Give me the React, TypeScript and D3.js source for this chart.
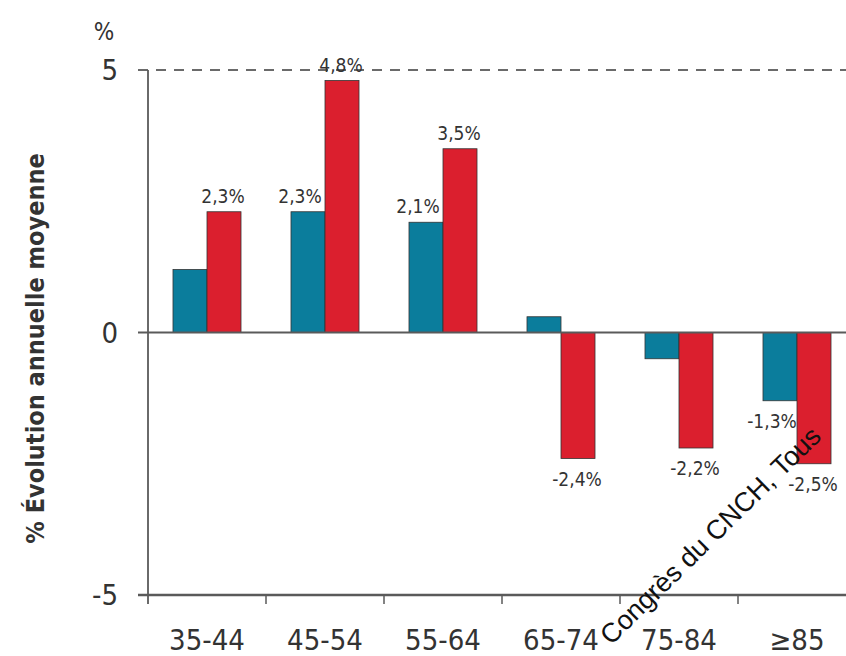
import React from 'react';
import * as d3 from 'd3';

const categories = ['35-44', '45-54', '55-64', '65-74', '75-84', '≥85'];
const series = ['teal', 'red'];
const tealValues = [1.2, 2.3, 2.1, 0.3, -0.5, -1.3];
const redValues = [2.3, 4.8, 3.5, -2.4, -2.2, -2.5];
const tealLabelled = [false, true, true, false, false, true];
const redLabelled = [true, true, true, true, true, true];
const yTicks = [-5, 0, 5];

const W = 846;
const H = 656;
const margin = { top: 70, left: 148, bottom: 595 };
const colors: Record<string, string> = { teal: '#0b7d9c', red: '#db1f2e' };
const font = '"Liberation Sans Narrow", "DejaVu Sans Condensed", Arial, sans-serif';

const fmt = (v: number) => v.toFixed(1).replace('.', ',') + '%';

export default function App() {
  const x0 = d3.scaleBand().domain(categories).range([margin.left, margin.left + 118 * categories.length]);
  const x1 = d3.scaleBand().domain(series).range([0, x0.bandwidth()]).paddingOuter(0.735);
  const y = d3.scaleLinear().domain([-5, 5]).range([margin.bottom, margin.top]);

  const rows = categories.map((c, i) => ({
    c,
    vals: [
      { s: 'teal', v: tealValues[i], lab: tealLabelled[i] },
      { s: 'red', v: redValues[i], lab: redLabelled[i] },
    ],
  }));

  const axisColor = '#5a5a5a';

  return (
    <div style={{ position: 'fixed', left: 0, top: 0 }}>
      <svg width={W} height={H} style={{ display: 'block', background: '#fff' }} fontFamily={font}>
        {/* dashed reference line at 5 */}
        <line x1={138} x2={W} y1={y(5)} y2={y(5)} stroke="#6a6a6a" strokeWidth={2} strokeDasharray="10,8" />

        {rows.map((r) =>
          r.vals.map((d) => {
            const bx = (x0(r.c) as number) + (x1(d.s) as number);
            const top = y(Math.max(0, d.v));
            const bottom = y(Math.min(0, d.v));
            return (
              <rect
                key={r.c + d.s}
                x={bx}
                y={top}
                width={x1.bandwidth()}
                height={bottom - top}
                fill={colors[d.s]}
                stroke="#333"
                strokeWidth={0.8}
              />
            );
          })
        )}

        {/* zero line */}
        <line x1={138} x2={W} y1={y(0)} y2={y(0)} stroke={axisColor} strokeWidth={2} />
        {/* bottom axis */}
        <line x1={138} x2={W} y1={y(-5)} y2={y(-5)} stroke={axisColor} strokeWidth={2.5} />
        {/* vertical axis */}
        <line x1={margin.left} x2={margin.left} y1={y(5)} y2={y(-5) + 9} stroke={axisColor} strokeWidth={1.8} />
        {categories.slice(1).map((c) => (
          <line key={c} x1={x0(c)} x2={x0(c)} y1={y(-5)} y2={y(-5) + 9} stroke={axisColor} strokeWidth={1.5} />
        ))}

        {yTicks.map((t) => (
          <text key={t} x={118} y={y(t)} dy="0.36em" textAnchor="end" fontSize={29} fill="#333">
            {t}
          </text>
        ))}
        <text x={104} y={40} textAnchor="middle" fontSize={24} fill="#333">%</text>

        {categories.map((c) => (
          <text key={c} x={(x0(c) as number) + x0.bandwidth() / 2} y={650} textAnchor="middle" fontSize={29} fill="#333">
            {c}
          </text>
        ))}

        {rows.map((r) =>
          r.vals
            .filter((d) => d.lab)
            .map((d) => {
              const cx = (x0(r.c) as number) + (x1(d.s) as number) + x1.bandwidth() / 2 + (d.s === 'teal' ? -8 : -1);
              const ty = d.v >= 0 ? y(d.v) - 9 : y(d.v) + 27;
              return (
                <text key={'l' + r.c + d.s} x={cx} y={ty} textAnchor="middle" fontSize={19} fill="#333">
                  {fmt(d.v)}
                </text>
              );
            })
        )}

        <text
          transform={`translate(44, ${y(0) + 16}) rotate(-90)`}
          textAnchor="middle"
          fontSize={25}
          fontWeight="bold"
          fill="#333"
        >
          % Évolution annuelle moyenne
        </text>

        <text
          transform="translate(611, 646) rotate(-44.5)"
          fontSize={27}
          fill="#111"
          fontFamily="'Liberation Sans', Arial, sans-serif"
        >
          Congrès du CNCH, Tous
        </text>
      </svg>
    </div>
  );
}
